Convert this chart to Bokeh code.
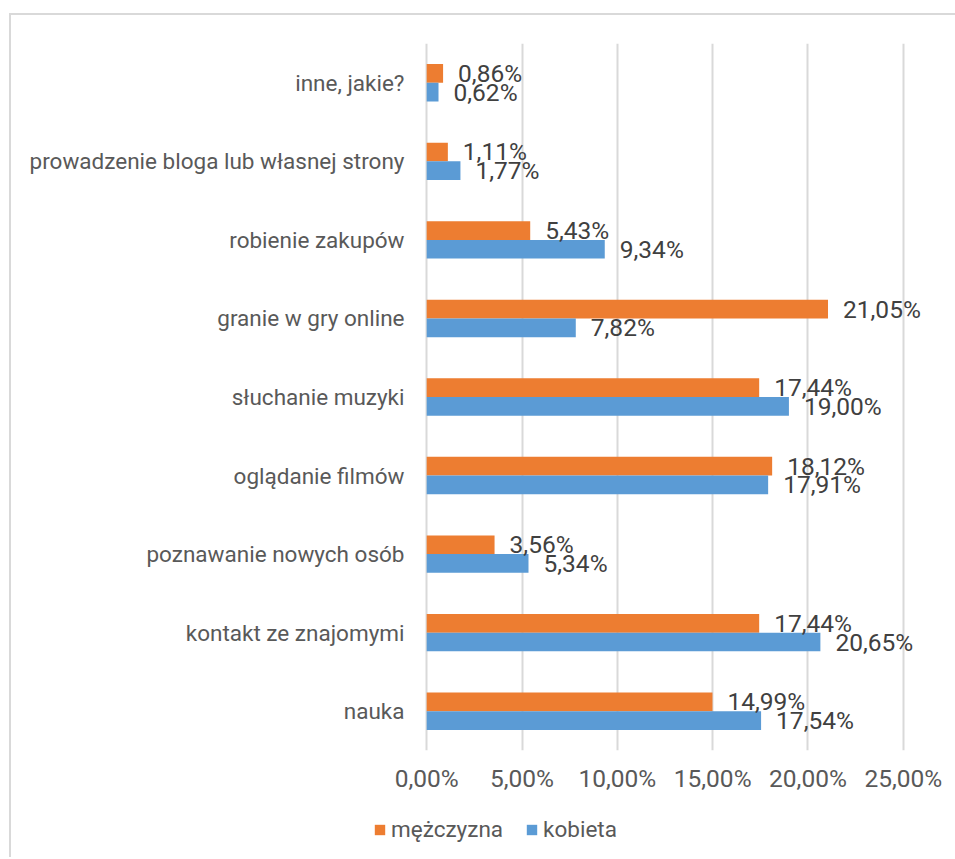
from bokeh.plotting import figure
from bokeh.layouts import column
from bokeh.models import (ColumnDataSource, FactorRange, Range1d, FixedTicker,
                          Legend, LegendItem)
from bokeh.transform import dodge
from bokeh.embed import file_html
from bokeh.resources import INLINE
from bokeh.core.properties import value

# ---- data (bottom to top) ----
categories = ["nauka", "kontakt ze znajomymi", "poznawanie nowych osób",
              "oglądanie filmów", "słuchanie muzyki", "granie w gry online",
              "robienie zakupów", "prowadzenie bloga lub własnej strony",
              "inne, jakie?"]
mezczyzna = [14.99, 17.44, 3.56, 18.12, 17.44, 21.05, 5.43, 1.11, 0.86]
kobieta = [17.54, 20.65, 5.34, 17.91, 19.00, 7.82, 9.34, 1.77, 0.62]
series_names = ["mężczyzna", "kobieta"]
x_ticks = [0, 5, 10, 15, 20, 25]
x_tick_labels = ["0,00%", "5,00%", "10,00%", "15,00%", "20,00%", "25,00%"]

ORANGE = "#ED7D31"
BLUE = "#5B9BD5"
FONT = "Roboto"
BORDER = "2px solid #d9d9d9"
X_START, X_END = -2.79, 27.58   # frame starts left of zero so the legend can too


def fmt(v):
    return f"{v:.2f}".replace(".", ",") + "%"


src = ColumnDataSource(dict(
    cat=categories,
    m=mezczyzna,
    k=kobieta,
    m_lbl=[fmt(v) for v in mezczyzna],
    k_lbl=[fmt(v) for v in kobieta],
))

p = figure(width=946, height=787, output_backend="svg", toolbar_location=None,
           y_range=FactorRange(factors=categories),
           x_range=Range1d(X_START, X_END),
           min_border_left=362, min_border_right=5,
           min_border_top=28, min_border_bottom=52)
p.margin = (13, 0, 0, 9)
p.styles = {"border-top": BORDER, "border-left": BORDER, "box-sizing": "border-box"}
p.outline_line_color = None
p.background_fill_color = "white"
p.border_fill_color = "white"

BAR_H = 0.238
OFF = BAR_H / 2

p.hbar(y=dodge("cat", OFF, range=p.y_range), right="m", left=0,
       height=BAR_H, color=ORANGE, line_color=None, source=src)
p.hbar(y=dodge("cat", -OFF, range=p.y_range), right="k", left=0,
       height=BAR_H, color=BLUE, line_color=None, source=src)

p.text(x="m", y=dodge("cat", OFF, range=p.y_range), text="m_lbl", source=src,
       x_offset=15, text_baseline="middle", text_align="left",
       text_font=value(FONT), text_font_size="24.5px", text_color="#404040")
p.text(x="k", y=dodge("cat", -OFF, range=p.y_range), text="k_lbl", source=src,
       x_offset=15, text_baseline="middle", text_align="left",
       text_font=value(FONT), text_font_size="24.5px", text_color="#404040")

# axes
p.xaxis.ticker = FixedTicker(ticks=x_ticks)
p.xaxis.major_label_overrides = {t: l for t, l in zip(x_ticks, x_tick_labels)}
p.xaxis.axis_line_color = None
p.xaxis.major_tick_line_color = None
p.xaxis.minor_tick_line_color = None
p.xaxis.major_tick_out = 0
p.xaxis.major_label_standoff = 13
p.xaxis.major_label_text_font = FONT
p.xaxis.major_label_text_font_size = "24.5px"
p.xaxis.major_label_text_color = "#595959"

p.yaxis.axis_line_color = None
p.yaxis.major_tick_line_color = None
p.yaxis.minor_tick_line_color = None
p.yaxis.major_tick_out = 0
p.yaxis.major_label_standoff = -31
p.yaxis.major_label_text_font = FONT
p.yaxis.major_label_text_font_size = "22.5px"
p.yaxis.major_label_text_color = "#595959"

p.xgrid.grid_line_color = "#d9d9d9"
p.xgrid.grid_line_width = 2
p.ygrid.grid_line_color = None

# ---- legend strip below the chart ----
leg = figure(width=946, height=57, output_backend="svg", toolbar_location=None,
             x_range=Range1d(X_START, X_END),
             y_range=FactorRange(factors=categories),
             min_border_left=362, min_border_right=5,
             min_border_top=0, min_border_bottom=0)
leg.margin = (0, 0, 0, 9)
leg.styles = {"border-left": BORDER, "box-sizing": "border-box"}
leg.axis.visible = False
leg.grid.visible = False
leg.outline_line_color = None
leg.background_fill_color = "white"
leg.border_fill_color = "white"

sw_m = leg.hbar(y="cat", right="m", left=0, height=BAR_H, color=ORANGE,
                line_color=None, source=src, visible=False)
sw_k = leg.hbar(y="cat", right="k", left=0, height=BAR_H, color=BLUE,
                line_color=None, source=src, visible=False)

legend = Legend(items=[LegendItem(label=series_names[0], renderers=[sw_m]),
                       LegendItem(label=series_names[1], renderers=[sw_k])],
                orientation="horizontal", location=(0, 15),
                glyph_width=13, glyph_height=13, label_standoff=5, spacing=22,
                padding=0, margin=0, border_line_color=None,
                background_fill_alpha=0, inactive_fill_alpha=0,
                label_text_font=FONT, label_text_font_size="22.5px",
                label_text_color="#595959", label_height=13)
leg.add_layout(legend, "center")

layout = column(p, leg, spacing=0)
open("out.html", "w").write(file_html(layout, INLINE))
